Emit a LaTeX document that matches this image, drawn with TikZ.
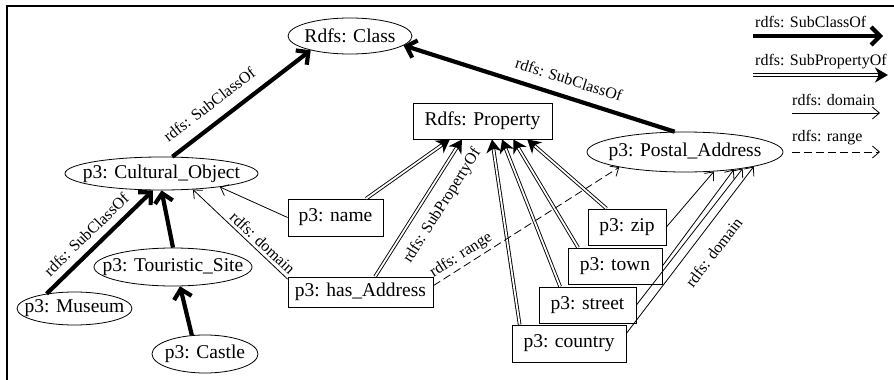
\documentclass[tikz,border=0pt]{standalone}
\usepackage{fontspec}
\setmainfont{Liberation Serif}
\usetikzlibrary{shapes.geometric,arrows.meta,calc}
\tikzset{
 ell/.style={draw, ellipse, inner sep=0pt, line width=0.8pt, font=\fontsize{19.5}{22}\selectfont},
 box/.style={draw, rectangle, inner sep=0pt, line width=0.8pt, font=\fontsize{19.5}{22}\selectfont},
 subcls/.style={line width=4.2pt, -{Straight Barb[length=9pt,width=18pt]}},
 subprop/.style={line width=3.6pt, -{Stealth[length=13pt,width=15pt,inset=4pt]},
   postaction={draw=white, line width=1.8pt, shorten >=10pt, -}},
 dom/.style={line width=0.8pt, -{Straight Barb[length=7pt,width=12pt]}},
 rng/.style={dom, dash pattern=on 8pt off 4pt},
 lbl/.style={font=\fontsize{16}{18}\selectfont, inner sep=1pt},
}
\begin{document}
\begin{tikzpicture}[x=1pt,y=-1pt]
\useasboundingbox (0,0) rectangle (894,380);
\draw[line width=1.2pt] (7,380) -- (7,6) -- (894,6);

% class nodes
\node[ell, minimum width=124pt, minimum height=36pt] (cls) at (350,36) {\makebox[0pt]{Rdfs: Class}};
\node[ell, minimum width=193pt, minimum height=33pt] (cul) at (161.5,173.5) {\makebox[0pt]{p3: Cultural\_Object}};
\node[ell, minimum width=196pt, minimum height=40pt] (pos) at (685,152) {\makebox[0pt]{p3: Postal\_Address}};
\node[ell, minimum width=115pt, minimum height=33pt] (mus) at (74.5,308.5) {\makebox[0pt]{p3: Museum}};
\node[ell, minimum width=158pt, minimum height=38pt] (tou) at (173,267) {\makebox[0pt]{p3: Touristic\_Site}};
\node[ell, minimum width=106pt, minimum height=38pt] (cas) at (205,354) {\makebox[0pt]{p3: Castle}};

% property nodes
\node[box, minimum width=139pt, minimum height=36pt] (prop) at (482.5,121) {Rdfs: Property};
\node[box, minimum width=95pt, minimum height=37pt] (name) at (335.5,217.5) {p3: name};
\node[box, minimum width=145pt, minimum height=30pt] (has) at (360.5,292) {p3: has\_Address};
\node[box, minimum width=78pt, minimum height=36pt] (zip) at (627,227) {p3: zip};
\node[box, minimum width=94pt, minimum height=36pt] (town) at (615,266) {p3: town};
\node[box, minimum width=97pt, minimum height=36pt] (street) at (587.5,305) {p3: street};
\node[box, minimum width=114pt, minimum height=37pt] (country) at (569,343.5) {p3: country};

% subproperty
\draw[subprop] ($(name.north west)!0.82!(name.north east)$) -- ($(prop.south west)!0.266!(prop.south east)$);
\draw[subprop] ($(has.north west)!0.6!(has.north east)$) -- node[lbl, sloped, below=9pt, pos=0.59] {rdfs: SubPropertyOf} ($(prop.south west)!0.353!(prop.south east)$);
\draw[subprop] ($(country.north west)!0.07!(country.north east)$) -- ($(prop.south west)!0.568!(prop.south east)$);
\draw[subprop] ($(street.north west)!0.22!(street.north east)$) -- ($(prop.south west)!0.64!(prop.south east)$);
\draw[subprop] ($(town.north west)!0.11!(town.north east)$) -- ($(prop.south west)!0.72!(prop.south east)$);
\draw[subprop] ($(zip.north west)!0.24!(zip.north east)$) -- ($(prop.south west)!0.82!(prop.south east)$);

% subclass
\draw[subcls] (cul.57) -- node[lbl, sloped, above=10pt, pos=0.35] {rdfs: SubClassOf} (cls.200);
\draw[subcls] (pos.117) -- node[lbl, sloped, above=9pt, pos=0.41] {rdfs: SubClassOf} (cls.-10);
\draw[subcls] (mus.152) -- node[lbl, sloped, above=6pt, pos=0.47] {rdfs: SubClassOf} (cul.-117);
\draw[subcls] (tou.north) -- (cul.south);
\draw[subcls] (cas.125) -- (tou.-70);

% domain / range
\draw[dom] (name.west) -- (cul.-13);
\draw[dom] (has.170) -- node[lbl, sloped, above=2pt, pos=0.33] {rdfs: domain} (cul.-27);
\draw[rng] (has.5) -- node[lbl, sloped, above=2pt, pos=0.18] {rdfs: range} (pos.-167);
\draw[dom] (zip.east) -- (pos.-34);
\draw[dom] (town.east) -- (pos.-20.5);
\draw[dom] (street.east) -- (pos.-16);
\draw[dom] (country.10) -- node[lbl, sloped, below=13pt, pos=0.56] {rdfs: domain} (pos.-12.3);

% legend
\coordinate (a1) at (753,36); \coordinate (b1) at (883,36);
\coordinate (a2) at (753,75); \coordinate (b2) at (888,75);
\coordinate (a3) at (792,113); \coordinate (b3) at (880,113);
\coordinate (a4) at (792,152); \coordinate (b4) at (880,152);
\draw[subcls] (a1) -- (b1);
\draw[subprop] (a2) -- (b2);
\draw[dom] (a3) -- (b3);
\draw[rng] (a4) -- (b4);
\node[lbl, anchor=west] (t1) at (754,22) {rdfs: SubClassOf};
\node[lbl, anchor=west] (t2) at (754,62) {rdfs: SubPropertyOf};
\node[lbl, anchor=west] (t3) at (791,100) {rdfs: domain};
\node[lbl, anchor=west] (t4) at (791,138) {rdfs: range};
\end{tikzpicture}
\end{document}
